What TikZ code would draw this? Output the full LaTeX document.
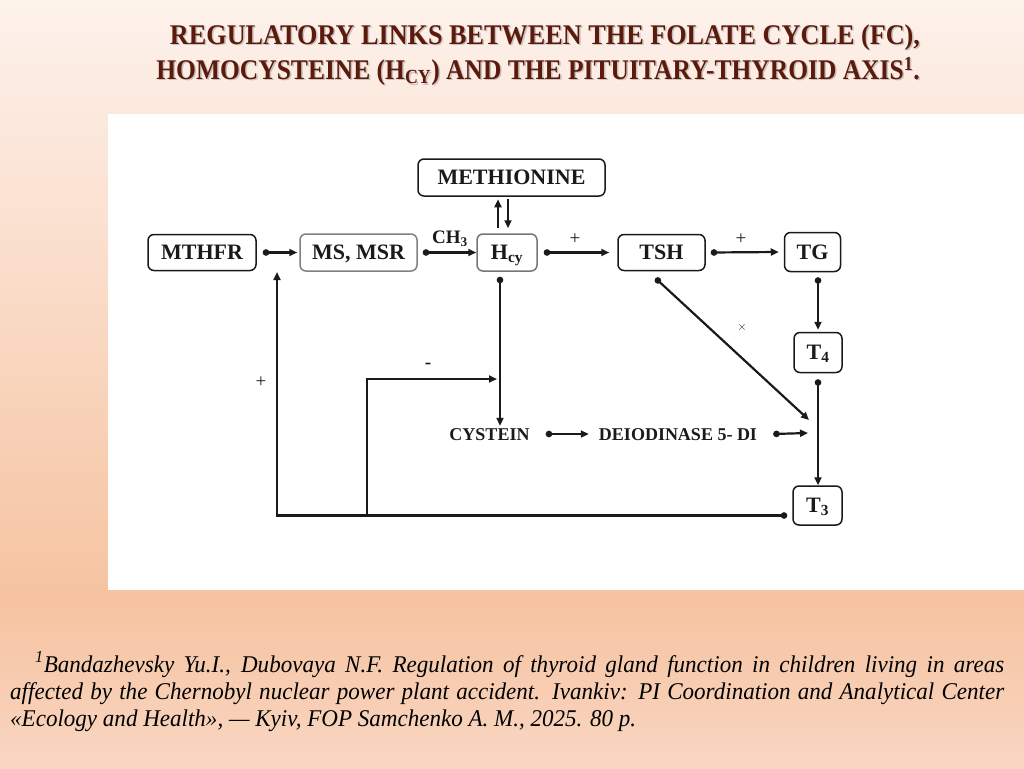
\documentclass[tikz,border=0pt]{standalone}
\usepackage{fontspec}
\setmainfont{Liberation Serif}
\newfontfamily\titlefont{Liberation Serif}[FakeStretch=0.92]
\newfontfamily\titlefontb{Liberation Serif}[FakeStretch=0.895]
\newfontfamily\notefont{Liberation Serif}[FakeStretch=0.96]
\usetikzlibrary{arrows.meta}
\definecolor{bgtop}{HTML}{FDF2EC}
\definecolor{bgmid}{HTML}{F6C3A0}
\definecolor{bgbot}{HTML}{F9D6C2}
\definecolor{titlecol}{HTML}{5C1A0C}
\definecolor{ink}{HTML}{1A1A1A}
\begin{document}
\begin{tikzpicture}[x=1pt,y=-1pt,
  box/.style={draw=ink, line width=1.5pt, rounded corners=6pt, fill=white,
    font=\bfseries\fontsize{22}{24}\selectfont, inner sep=0pt, text=ink,
    text height=14.5pt, text depth=0pt},
  lbl/.style={font=\bfseries\fontsize{18}{20}\selectfont, inner sep=0pt, text=ink,
    text height=12pt, text depth=0pt},
  link/.style={draw=ink, line width=2.2pt, {Circle[length=6.5pt]}-{Triangle[length=8pt,width=7pt]}},
  arr/.style={draw=ink, line width=2.2pt, -{Triangle[length=8pt,width=7pt]}},
  sign/.style={font=\fontsize{19}{19}\selectfont, inner sep=0pt, text=ink},
  ttl/.style={font=\titlefont\bfseries\fontsize{28.5}{33}\selectfont, inner sep=0pt, text=titlecol},
  ttlb/.style={font=\titlefontb\bfseries\fontsize{28.5}{33}\selectfont, inner sep=0pt, text=titlecol},
  ttlsh/.style={ttl, text=black!35, opacity=0.6},
  ttlbsh/.style={ttlb, text=black!35, opacity=0.6},
  note/.style={font=\notefont\itshape\fontsize{24}{27}\selectfont, inner sep=0pt, text=black, anchor=base west},
]
\useasboundingbox (0,0) rectangle (1024,768);
\shade[top color=bgtop, bottom color=bgmid] (0,0) rectangle (1024,600);
\shade[top color=bgmid, bottom color=bgbot] (0,600) rectangle (1024,768);
\fill[white] (108,114) rectangle (1024,590);

% title
\node[ttlsh] (t1s) at (546.5,39) {REGULATORY LINKS BETWEEN THE FOLATE CYCLE (FC),};
\node[ttl] (t1) at (545,37.5) {REGULATORY LINKS BETWEEN THE FOLATE CYCLE (FC),};
\node[ttlbsh] (t2s) at (539.5,72.5) {HOMOCYSTEINE (H\textsubscript{CY}) AND THE PITUITARY-THYROID AXIS\textsuperscript{1}.};
\node[ttlb] (t2) at (538,71) {HOMOCYSTEINE (H\textsubscript{CY}) AND THE PITUITARY-THYROID AXIS\textsuperscript{1}.};

% footnote
\node[note] (fn1) at (35,672) {\hbox to 969pt{\textsuperscript{1}Bandazhevsky Yu.I., Dubovaya N.F. Regulation of thyroid gland function in children living in areas}};
\node[note] (fn2) at (10,699) {\hbox to 994pt{affected by the Chernobyl nuclear power plant accident. Ivankiv: PI Coordination and Analytical Center}};
\node[note] (fn3) at (10,726) {«Ecology and Health», — Kyiv, FOP Samchenko A. M., 2025. 80 p.};

% boxes
\node[box, minimum width=187pt, minimum height=37pt] (meth) at (511.5,177.5) {METHIONINE};
\node[box, minimum width=108pt, minimum height=36pt] (mthfr) at (202,252.5) {MTHFR};
\node[box, draw=ink!55, minimum width=117pt, minimum height=37pt] (ms) at (358.5,252.5) {MS, MSR};
\node[box, draw=ink!60, minimum width=60pt, minimum height=37pt] (hcy) at (507,252.5) {H\textsubscript{cy}};
\node[box, minimum width=87pt, minimum height=36pt] (tsh) at (661.5,252.5) {TSH};
\node[box, minimum width=56pt, minimum height=39pt] (tg) at (812.5,252) {TG};
\node[box, minimum width=48pt, minimum height=40pt] (t4) at (818,352.5) {T\textsubscript{4}};
\node[box, minimum width=49pt, minimum height=39pt] (t3) at (817.5,505.5) {T\textsubscript{3}};

% text labels
\node[lbl] (cys) at (489.5,434) {CYSTEIN};
\node[lbl] (deio) at (678,434) {DEIODINASE 5- DI};
\node[font=\bfseries\fontsize{19}{19}\selectfont, inner sep=0pt, text=ink] (ch3) at (450,239) {CH\textsubscript{3}};
\node[sign] (p1) at (575,239) {+};
\node[sign] (p2) at (741,239) {+};
\node[sign] (p3) at (261,382) {+};
\node[sign, font=\bfseries\fontsize{19}{19}\selectfont] (m1) at (428,366) {-};
\node[font=\fontsize{13}{13}\selectfont, inner sep=0pt, text=ink] (x1) at (742,327) {$\times$};

% free ends
\coordinate (tj) at (809,420);
\coordinate (dj) at (808,433);
\coordinate (fb) at (277,272);
\coordinate (br) at (367,515.5);
\coordinate (inh) at (497,379);

% connectors
\draw[link] ([xshift=6pt]mthfr.east) -- ([xshift=-2pt]ms.west);
\draw[link] ([xshift=5pt]ms.east) -- (hcy.west);
\draw[link] ([xshift=6pt]hcy.east) -- ([xshift=-8pt]tsh.west);
\draw[link] ([xshift=5pt]tsh.east) -- ([xshift=-5pt]tg.west);
\draw[arr] ([xshift=-9pt,yshift=5pt]hcy.north) -- ([xshift=-9pt,yshift=34pt]hcy.north);
\draw[arr] ([xshift=1pt,yshift=34pt]hcy.north) -- ([xshift=1pt,yshift=5pt]hcy.north);
\draw[link] ([xshift=-7pt,yshift=-5pt]hcy.south) -- ([xshift=10.5pt,yshift=2pt]cys.north);
\draw[link] ([xshift=-6pt,yshift=-7pt]tsh.south) -- (tj);
\draw[link] ([xshift=5.5pt,yshift=-5pt]tg.south) -- ([yshift=2pt]t4.north);
\draw[link] ([yshift=-6pt]t4.south) -- ([xshift=0.5pt]t3.north);
\draw[link] ([xshift=16pt]cys.east) -- ([xshift=-10pt]deio.west);
\draw[link] ([xshift=16pt]deio.east) -- (dj);
\draw[link] ([xshift=-5pt,yshift=-10pt]t3.west) -| (fb);
\draw[arr] (br) |- (inh);
\end{tikzpicture}
\end{document}
